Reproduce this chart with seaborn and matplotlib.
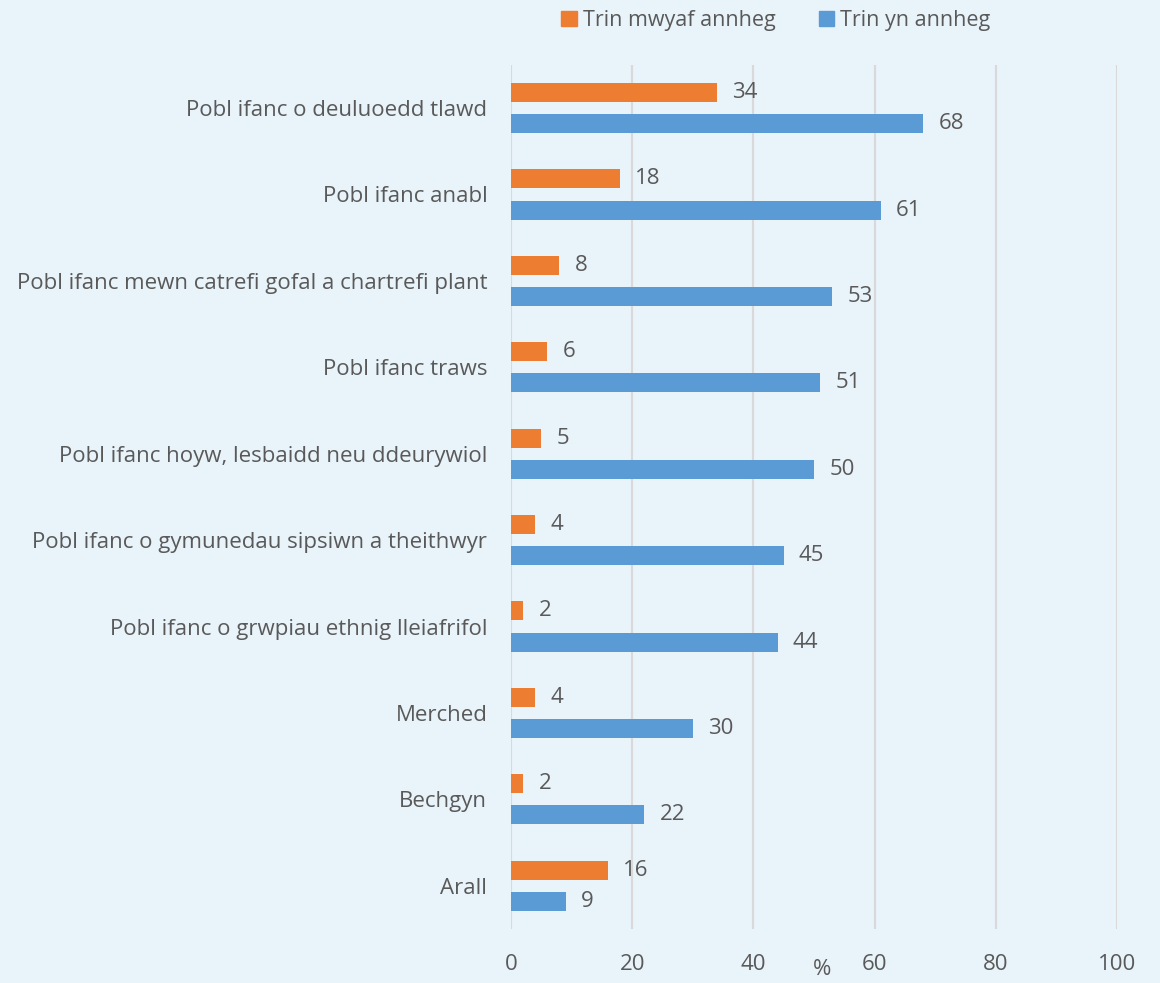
import pandas as pd
import seaborn as sns
import matplotlib.pyplot as plt
from matplotlib.patches import Patch

# data
categories = [
    "Pobl ifanc o deuluoedd tlawd",
    "Pobl ifanc anabl",
    "Pobl ifanc mewn catrefi gofal a chartrefi plant",
    "Pobl ifanc traws",
    "Pobl ifanc hoyw, lesbaidd neu ddeurywiol",
    "Pobl ifanc o gymunedau sipsiwn a theithwyr",
    "Pobl ifanc o grwpiau ethnig lleiafrifol",
    "Merched",
    "Bechgyn",
    "Arall",
]
mwyaf = [34, 18, 8, 6, 5, 4, 2, 4, 2, 16]
annheg = [68, 61, 53, 51, 50, 45, 44, 30, 22, 9]
series = ["Trin mwyaf annheg", "Trin yn annheg"]
colors = ["#ED7D31", "#5B9BD5"]

bg = "#E9F3FA"
txt = "#595959"
fs = 16

df = pd.DataFrame({
    "cat": categories * 2,
    "val": mwyaf + annheg,
    "series": [series[0]] * len(categories) + [series[1]] * len(categories),
})

sns.set_theme(style="white")
plt.rcParams["font.family"] = ["Open Sans", "DejaVu Sans"]

fig = plt.figure(figsize=(11.6, 9.83), dpi=100, facecolor=bg)
ax = fig.add_axes([0.4405, 0.055, 0.5224, 0.879])
ax.set_facecolor(bg)

sns.barplot(data=df, y="cat", x="val", hue="series", order=categories,
            hue_order=series, palette=colors, width=0.72, ax=ax,
            legend=False, saturation=1, linewidth=0)

# slim the bars so there is a small gap between the two series
for p in ax.patches:
    c = p.get_y() + p.get_height() / 2
    p.set_height(0.22)
    p.set_y(c - 0.11)

for cont in ax.containers:
    ax.bar_label(cont, padding=11, fontsize=fs, color=txt)

ax.set_xlim(0, 100)
ax.set_xticks(range(0, 101, 20))
ax.grid(axis="x", color="#D9D9D9", linewidth=1.5)
ax.set_axisbelow(True)
for s in ax.spines.values():
    s.set_visible(False)
ax.tick_params(axis="x", length=0, pad=18, labelsize=fs, labelcolor=txt)
ax.tick_params(axis="y", length=0, pad=17, labelsize=fs, labelcolor=txt)
ax.set_ylabel("")
ax.set_xlabel("")
ax.text(0.513, -0.047, "%", transform=ax.transAxes, ha="center", va="center",
        fontsize=fs, color=txt)

handles = [Patch(color=c) for c in colors]
fig.legend(handles, series, loc="center", bbox_to_anchor=(0.669, 0.979),
           ncol=2, frameon=False, fontsize=15.5, labelcolor=txt,
           handlelength=0.7, handleheight=0.7, handletextpad=0.3,
           columnspacing=2.0)

fig.savefig("out.png", dpi=100, facecolor=bg)
